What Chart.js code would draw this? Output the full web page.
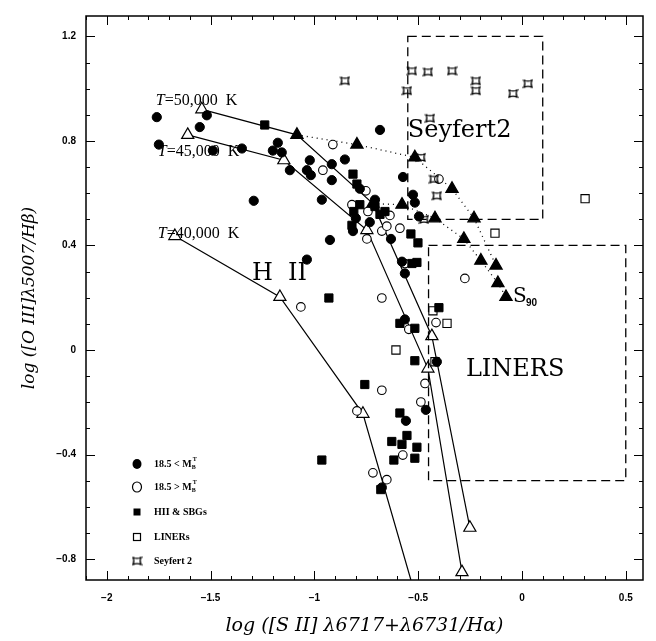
<!DOCTYPE html>
<html>
<head>
<meta charset="utf-8">
<script src="https://cdn.jsdelivr.net/npm/chart.js@4.4.0/dist/chart.umd.min.js"></script>
<style>
  html, body { margin: 0; padding: 0; background: #fff; }
</style>
</head>
<body>
<canvas id="c" width="656" height="641"></canvas>
<script>
// axis ranges and tick labels
const xRange = [-2.1, 0.583];
const yRange = [-0.88, 1.278];
const xTickLabels = ['−2', '−1.5', '−1', '−0.5', '0', '0.5'];
const yTickLabels = ['−0.8', '−0.4', '0', '0.4', '0.8', '1.2'];

// galaxies, [log SII/Ha, log OIII/Hb]
const brightGal = [
  [-1.759, 0.891], [-1.749, 0.786], [-1.518, 0.898], [-1.552, 0.853], [-1.489, 0.763],
  [-1.349, 0.771], [-1.176, 0.793], [-1.2, 0.763], [-1.157, 0.756], [-1.118, 0.688],
  [-1.022, 0.726], [-1.036, 0.688], [-1.017, 0.669], [-0.916, 0.711], [-0.916, 0.65],
  [-0.853, 0.729], [-0.781, 0.617], [-0.684, 0.842], [-1.292, 0.571], [-0.964, 0.575],
  [-0.925, 0.421], [-1.036, 0.346], [-0.573, 0.662], [-0.525, 0.594], [-0.516, 0.564],
  [-0.496, 0.511], [-0.708, 0.575], [-0.8, 0.504], [-0.733, 0.489], [-0.814, 0.455],
  [-0.631, 0.425], [-0.578, 0.338], [-0.564, 0.293], [-0.564, 0.117], [-0.41, -0.045],
  [-0.463, -0.229], [-0.559, -0.271], [-0.675, -0.526]
];
const faintGal = [
  [-0.911, 0.786], [-0.959, 0.688], [-0.752, 0.609], [-0.819, 0.556], [-0.747, 0.425],
  [-0.675, 0.455], [-0.651, 0.474], [-0.588, 0.466], [-0.636, 0.515], [-0.742, 0.53],
  [-0.564, 0.331], [-0.675, 0.199], [-1.065, 0.165], [-0.275, 0.274], [-0.4, 0.654],
  [-0.414, 0.105], [-0.545, 0.079], [-0.467, -0.128], [-0.675, -0.154], [-0.487, -0.199],
  [-0.795, -0.233], [-0.574, -0.402], [-0.718, -0.47], [-0.651, -0.496]
];
const hiiSbg = [
  [-1.239, 0.861], [-0.814, 0.673], [-0.795, 0.635], [-0.781, 0.556], [-0.708, 0.549],
  [-0.66, 0.53], [-0.684, 0.519], [-0.81, 0.53], [-0.819, 0.477], [-0.535, 0.444],
  [-0.501, 0.41], [-0.53, 0.331], [-0.506, 0.335], [-0.93, 0.199], [-0.4, 0.162],
  [-0.588, 0.102], [-0.516, 0.083], [-0.516, -0.041], [-0.757, -0.132], [-0.588, -0.241],
  [-0.554, -0.327], [-0.627, -0.35], [-0.578, -0.361], [-0.506, -0.372], [-0.617, -0.421],
  [-0.516, -0.414], [-0.964, -0.421], [-0.68, -0.534]
];
const liners = [
  [0.304, 0.579], [-0.13, 0.447], [-0.429, 0.15], [-0.361, 0.102], [-0.607, 0.0], [-0.419, -0.045]
];
const seyferts = [
  [-0.853, 1.03], [-0.53, 1.068], [-0.453, 1.064], [-0.337, 1.068], [-0.222, 1.03],
  [-0.222, 0.992], [-0.043, 0.981], [0.029, 1.019], [-0.554, 0.992], [-0.443, 0.887],
  [-0.487, 0.737], [-0.424, 0.654], [-0.41, 0.59], [-0.472, 0.5]
];

// photoionisation model sequences
const t50 = [[-1.542, 0.921], [-1.084, 0.823], [-0.718, 0.56], [-0.434, 0.053], [-0.251, -0.68]];
const t45 = [[-1.61, 0.823], [-1.147, 0.726], [-0.747, 0.459], [-0.453, -0.071], [-0.289, -0.85]];
const t40 = [[-1.672, 0.436], [-1.166, 0.203], [-0.766, -0.244], [-0.535, -0.88]];
// evolutionary tracks (dotted, filled triangles)
const trackA = [[-1.084, 0.823], [-0.795, 0.786], [-0.516, 0.737], [-0.337, 0.617], [-0.231, 0.504], [-0.125, 0.323]];
const trackB = [[-0.718, 0.56], [-0.578, 0.556], [-0.419, 0.504], [-0.28, 0.425], [-0.198, 0.342], [-0.116, 0.256], [-0.077, 0.203]];

// dashed region boxes [x0, x1, y0, y1]
const seyBox = [-0.55, 0.1, 0.5, 1.2];
const linerBox = [-0.45, 0.5, -0.5, 0.4];

const pts = a => a.map(p => ({x: p[0], y: p[1]}));

function seyfertMark() {
  const c = document.createElement('canvas');
  c.width = 11; c.height = 11;
  const g = c.getContext('2d');
  g.strokeStyle = '#000';
  g.lineWidth = 1.2;
  g.beginPath();
  g.moveTo(1.5, 2); g.quadraticCurveTo(5.5, 3.8, 9.5, 2);
  g.quadraticCurveTo(7.6, 5.5, 9.5, 9);
  g.quadraticCurveTo(5.5, 7.2, 1.5, 9);
  g.quadraticCurveTo(3.4, 5.5, 1.5, 2);
  g.moveTo(0.5, 2); g.lineTo(3, 2);
  g.moveTo(8, 2); g.lineTo(10.5, 2);
  g.moveTo(0.5, 9); g.lineTo(3, 9);
  g.moveTo(8, 9); g.lineTo(10.5, 9);
  g.stroke();
  return c;
}
const seyImg = seyfertMark();

function fmt(v) {
  const s = String(parseFloat(Math.abs(v).toFixed(2)));
  return (v < -1e-9 ? '−' : '') + s;
}

const frame = {
  id: 'frame',
  afterDraw(chart) {
    const {ctx, chartArea: a, scales: {x, y}} = chart;
    ctx.save();
    ctx.strokeStyle = '#000';
    ctx.lineWidth = 1.5;
    ctx.strokeRect(a.left, a.top, a.right - a.left, a.bottom - a.top);
    ctx.lineWidth = 1;
    ctx.beginPath();
    for (let i = -21; i <= 5; i++) {
      const px = Math.round(x.getPixelForValue(i / 10)) + 0.5;
      const len = i % 5 === 0 ? 9 : 4;
      ctx.moveTo(px, a.bottom); ctx.lineTo(px, a.bottom - len);
      ctx.moveTo(px, a.top); ctx.lineTo(px, a.top + len);
    }
    for (let i = -8; i <= 12; i++) {
      const py = Math.round(y.getPixelForValue(i / 10)) + 0.5;
      const len = i % 4 === 0 ? 9 : 4;
      ctx.moveTo(a.left, py); ctx.lineTo(a.left + len, py);
      ctx.moveTo(a.right, py); ctx.lineTo(a.right - len, py);
    }
    ctx.stroke();

    // dashed boxes
    ctx.setLineDash([9, 5]);
    ctx.lineWidth = 1.3;
    [seyBox, linerBox].forEach(b => {
      const x0 = x.getPixelForValue(b[0]), x1 = x.getPixelForValue(b[1]);
      const y0 = y.getPixelForValue(b[2]), y1 = y.getPixelForValue(b[3]);
      ctx.strokeRect(x0, y1, x1 - x0, y0 - y1);
    });
    ctx.setLineDash([]);

    // region and model labels
    ctx.fillStyle = '#000';
    ctx.textBaseline = 'alphabetic';
    const tlab = (vx, vy, txt) => {
      const px = x.getPixelForValue(vx), py = y.getPixelForValue(vy);
      ctx.font = 'italic 16px "Liberation Serif"';
      ctx.fillText('T', px, py);
      const w = ctx.measureText('T').width;
      ctx.font = '16px "Liberation Serif"';
      ctx.fillText(txt, px + w, py);
    };
    tlab(-1.764, 0.936, '=50,000  K');
    tlab(-1.754, 0.744, '=45,000  K');
    tlab(-1.754, 0.429, '=40,000  K');
    const big = (vx, vy, txt) => {
      ctx.font = '24px "DejaVu Serif"';
      ctx.fillText(txt, x.getPixelForValue(vx), y.getPixelForValue(vy));
    };
    big(-1.301, 0.267, 'H  II');
    big(-0.55, 0.815, 'Seyfert2');
    big(-0.27, -0.098, 'LINERS');
    const sx = x.getPixelForValue(-0.043), sy = y.getPixelForValue(0.184);
    ctx.font = '20px "DejaVu Serif"';
    ctx.fillText('S', sx, sy);
    ctx.font = 'bold 10px "Liberation Sans"';
    ctx.fillText('90', sx + 13, sy + 4);

    // legend
    const lx = 137, rows = [464, 487, 512, 537, 561];
    ctx.lineWidth = 1.2;
    ctx.beginPath(); ctx.ellipse(lx, rows[0], 4.5, 5, 0, 0, Math.PI * 2); ctx.fill();
    ctx.beginPath(); ctx.ellipse(lx, rows[1], 4.5, 5, 0, 0, Math.PI * 2); ctx.stroke();
    ctx.fillRect(lx - 3.5, rows[2] - 3.5, 7, 7);
    ctx.strokeRect(lx - 3.5, rows[3] - 3.5, 7, 7);
    ctx.drawImage(seyImg, lx - 5.5, rows[4] - 5.5);
    ctx.textBaseline = 'middle';
    const tx = 154;
    const mLab = (row, txt) => {
      ctx.font = 'bold 10px "Liberation Serif"';
      ctx.fillText(txt, tx, row);
      const w = ctx.measureText(txt).width;
      ctx.font = 'bold 6px "Liberation Serif"';
      ctx.fillText('T', tx + w + 1, row - 5);
      ctx.fillText('B', tx + w, row + 3);
    };
    mLab(rows[0], '18.5 < M');
    mLab(rows[1], '18.5 > M');
    ctx.font = 'bold 10px "Liberation Serif"';
    ctx.fillText('HII & SBGs', tx, rows[2]);
    ctx.fillText('LINERs', tx, rows[3]);
    ctx.fillText('Seyfert 2', tx, rows[4]);
    ctx.restore();
  }
};

const lineDs = (data, radii) => ({
  data: pts(data), showLine: true, borderColor: '#000', borderWidth: 1.2,
  pointStyle: 'triangle', pointRadius: radii, pointBackgroundColor: '#fff',
  pointBorderColor: '#000', pointBorderWidth: 1.2, order: 10
});
const trackDs = data => ({
  data: pts(data), showLine: true, borderColor: '#000', borderWidth: 1.3,
  borderDash: [1, 4], pointStyle: 'triangle', pointRadius: 7,
  pointBackgroundColor: '#000', pointBorderColor: '#000', order: 5
});

new Chart(document.getElementById('c'), {
  type: 'scatter',
  data: {
    datasets: [
      {data: pts(brightGal), pointStyle: 'circle', pointRadius: 4.6, pointBackgroundColor: '#000', pointBorderColor: '#000', order: 2},
      {data: pts(faintGal), pointStyle: 'circle', pointRadius: 4.3, pointBackgroundColor: '#fff', pointBorderColor: '#000', pointBorderWidth: 1.1, order: 3},
      {data: pts(hiiSbg), pointStyle: 'rect', pointRadius: 5.8, pointBackgroundColor: '#000', pointBorderColor: '#000', order: 2},
      {data: pts(liners), pointStyle: 'rect', pointRadius: 5.8, pointBackgroundColor: '#fff', pointBorderColor: '#000', pointBorderWidth: 1.1, order: 2},
      {data: pts(seyferts), pointStyle: seyImg, pointRadius: 5, order: 1},
      trackDs(trackA),
      trackDs(trackB),
      lineDs(t50, [7, 0, 0, 7, 7]),
      lineDs(t45, 7),
      lineDs(t40, [7, 7, 7, 0])
    ]
  },
  options: {
    responsive: false,
    animation: false,
    events: [],
    layout: {padding: {top: 6, right: 13, left: 0, bottom: 0}},
    plugins: {legend: {display: false}, tooltip: {enabled: false}},
    scales: {
      x: {
        type: 'linear', min: xRange[0], max: xRange[1],
        afterFit: s => { s.height = 61; },
        grid: {display: false, drawTicks: false},
        border: {display: false},
        ticks: {
          stepSize: 0.5, includeBounds: false, padding: 12, color: '#000',
          font: {family: '"Liberation Sans"', size: 10, weight: 'bold'},
          callback: v => xTickLabels.includes(fmt(v)) ? fmt(v) : ''
        },
        title: {
          display: true, text: 'log ([S II] λ6717+λ6731/Hα)', color: '#000',
          font: {family: '"DejaVu Serif"', size: 19, style: 'italic'},
          padding: {top: 0, bottom: 4}
        }
      },
      y: {
        type: 'linear', min: yRange[0], max: yRange[1],
        afterFit: s => { s.width = 86; },
        grid: {display: false, drawTicks: false},
        border: {display: false},
        ticks: {
          stepSize: 0.4, includeBounds: false, padding: 10, color: '#000',
          font: {family: '"Liberation Sans"', size: 10, weight: 'bold'},
          callback: v => yTickLabels.includes(fmt(v)) ? fmt(v) : ''
        },
        title: {
          display: true, text: 'log ([O III]λ5007/Hβ)', color: '#000',
          font: {family: '"DejaVu Serif"', size: 17, style: 'italic'},
          padding: {top: 19, bottom: 0}
        }
      }
    }
  },
  plugins: [frame]
});
</script>
</body>
</html>
